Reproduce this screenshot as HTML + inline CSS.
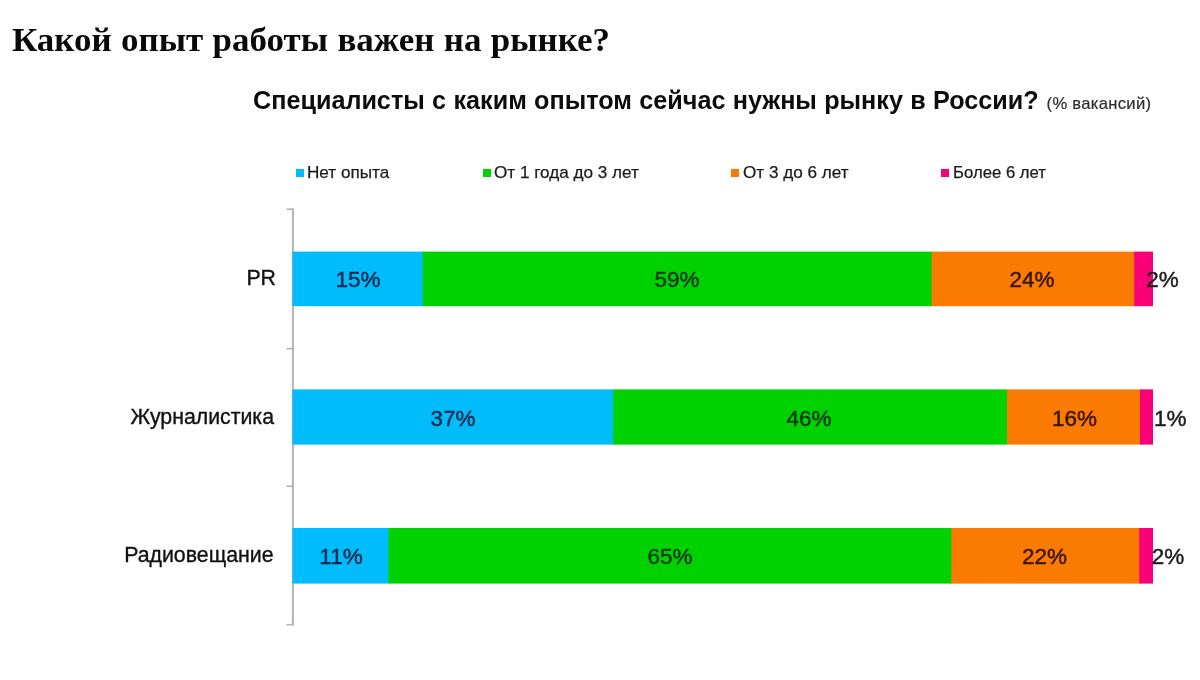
<!DOCTYPE html>
<html lang="ru">
<head>
<meta charset="utf-8">
<title>Какой опыт работы важен на рынке?</title>
<style>
  html, body { margin: 0; padding: 0; background: #ffffff; }
  body { width: 1200px; height: 680px; position: relative; overflow: hidden;
         font-family: "Liberation Sans", sans-serif; color: #1a1a1a; }
  .t { position: absolute; white-space: nowrap; line-height: 1; }
  #title { left: 12px; top: 22.5px; font-family: "Liberation Serif", serif; font-weight: bold;
           font-size: 33.5px; color: #0a0a0a; word-spacing: 0.7px; transform: scaleX(1.043); transform-origin: 0 0; }
  #ctitle { left: 253px; top: 88px; font-weight: bold; font-size: 25.2px; color: #0c0c0c; word-spacing: 0.35px; }
  #ctitle small { font-weight: normal; font-size: 16.6px; letter-spacing: 0.3px; color: #2e2e2e; margin-left: 0.5px; word-spacing: 0; -webkit-text-stroke: 0.2px #2e2e2e; }
  .lg { font-size: 16.4px; top: 164.2px; color: #1c1c1c; -webkit-text-stroke: 0.25px #1c1c1c; transform: scaleX(1.045); transform-origin: 0 50%; }
  .sq { position: absolute; width: 8px; height: 8px; top: 169px; }
  .axis { position: absolute; background: #b0b0b0; }
  .bar { position: absolute; height: 55px; }
  .c1 { background: #00bcfa; }
  .c2 { background: #00d200; }
  .c3 { background: #fa7a02; }
  .c4 { background: #fa0078; }
  .cat { font-size: 21.3px; color: #111; text-align: right; width: 274px; left: 0; -webkit-text-stroke: 0.35px #111; }
  .dl { font-size: 22.5px; color: #1e1e1e; transform: translateX(-50%); -webkit-text-stroke: 0.45px currentColor; }
  .dl.b { color: #0a2a50; }
  .dl.g { color: #063806; }
  .dl.o { color: #3a1602; }
</style>
</head>
<body>
  <div class="t" id="title">Какой опыт работы важен на рынке?</div>
  <div class="t" id="ctitle">Специалисты с каким опытом сейчас нужны рынку в России? <small>(% вакансий)</small></div>

  <!-- legend -->
  <div class="sq c1" style="left:296px"></div><div class="t lg" style="left:307.3px">Нет опыта</div>
  <div class="sq c2" style="left:483px"></div><div class="t lg" style="left:494px">От 1 года до 3 лет</div>
  <div class="sq c3" style="left:731px"></div><div class="t lg" style="left:743px">От 3 до 6 лет</div>
  <div class="sq c4" style="left:940.5px"></div><div class="t lg" style="left:952.5px; transform:scaleX(1.02)">Более 6 лет</div>

  <!-- axis + bars -->
  <svg width="1200" height="680" viewBox="0 0 1200 680" style="position:absolute;left:0;top:0">
    <g fill="#b4b4b4">
      <rect x="291.9" y="208.4" width="2" height="417.1"/>
      <rect x="286.5" y="208.4" width="6.5" height="1.6"/>
      <rect x="286.5" y="347.9" width="6.5" height="1.6"/>
      <rect x="286.5" y="485.5" width="6.5" height="1.6"/>
      <rect x="286.5" y="623.9" width="6.5" height="1.6"/>
    </g>
    <rect x="292.5" y="251.6" width="131.2" height="54.6" fill="#00bcfa"/>
    <rect x="422.7" y="251.6" width="510.0" height="54.6" fill="#00d200"/>
    <rect x="931.7" y="251.6" width="203.5" height="54.6" fill="#fa7a02"/>
    <rect x="1134.2" y="251.6" width="18.8" height="54.6" fill="#fa0078"/>
    <rect x="292.5" y="389.4" width="321.7" height="55.2" fill="#00bcfa"/>
    <rect x="613.2" y="389.4" width="394.8" height="55.2" fill="#00d200"/>
    <rect x="1007.0" y="389.4" width="134.0" height="55.2" fill="#fa7a02"/>
    <rect x="1140.0" y="389.4" width="13.0" height="55.2" fill="#fa0078"/>
    <rect x="292.5" y="528.0" width="97.0" height="55.6" fill="#00bcfa"/>
    <rect x="388.5" y="528.0" width="563.8" height="55.6" fill="#00d200"/>
    <rect x="951.3" y="528.0" width="189.0" height="55.6" fill="#fa7a02"/>
    <rect x="1139.3" y="528.0" width="13.7" height="55.6" fill="#fa0078"/>
  </svg>

  <!-- row 1 : PR -->
  <div class="t cat" style="top:268px; width:276px">PR</div>
  <div class="t dl b" style="left:358px; top:269px">15%</div>
  <div class="t dl g" style="left:677px; top:269px">59%</div>
  <div class="t dl o" style="left:1032px; top:269px">24%</div>
  <div class="t dl" style="left:1162.5px; top:269px">2%</div>

  <!-- row 2 : Журналистика -->
  <div class="t cat" style="top:406.5px">Журналистика</div>
  <div class="t dl b" style="left:453px; top:408px">37%</div>
  <div class="t dl g" style="left:809px; top:408px">46%</div>
  <div class="t dl o" style="left:1074.5px; top:408px">16%</div>
  <div class="t dl" style="left:1170.3px; top:408px">1%</div>

  <!-- row 3 : Радиовещание -->
  <div class="t cat" style="top:545px; width:273.5px">Радиовещание</div>
  <div class="t dl b" style="left:341px; top:546px">11%</div>
  <div class="t dl g" style="left:670px; top:546px">65%</div>
  <div class="t dl o" style="left:1044.5px; top:546px">22%</div>
  <div class="t dl" style="left:1168px; top:546px">2%</div>
</body>
</html>
